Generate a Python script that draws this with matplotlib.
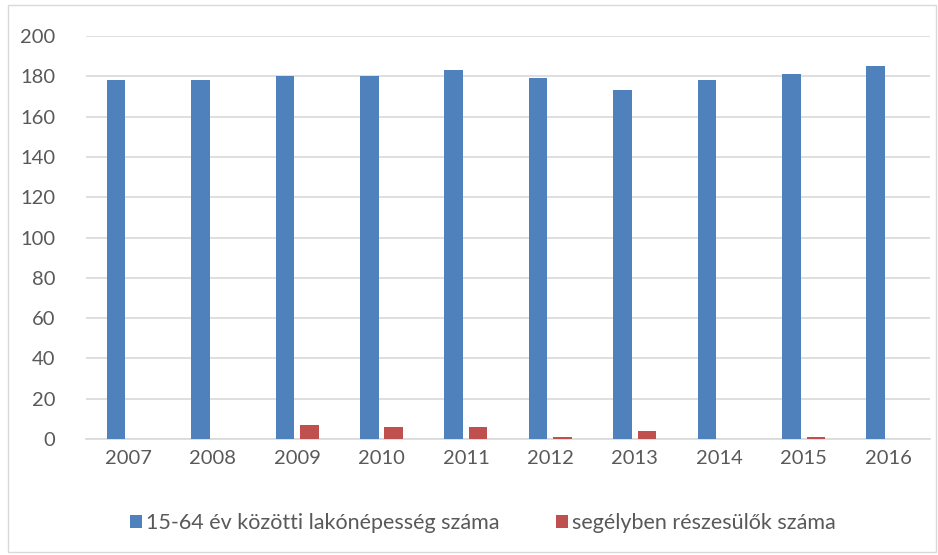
import numpy as np
import matplotlib.pyplot as plt
from matplotlib.patches import Rectangle

years = ['2007', '2008', '2009', '2010', '2011', '2012', '2013', '2014', '2015', '2016']
lakonepesseg = [178, 178, 180, 180, 183, 179, 173, 178, 181, 185]
segelyezettek = [0, 0, 7, 6, 6, 1, 4, 0, 1, 0]

blue = '#4f81bd'
red = '#c0504d'
grey_txt = '#595959'

plt.rcParams['font.family'] = ['Lato', 'DejaVu Sans']

fig = plt.figure(figsize=(9.38, 5.55), dpi=100)
ax = fig.add_axes([0.0917, 0.209, 0.9, 0.726])

x = np.arange(len(years))
w = 0.22
ax.bar(x - 0.145, lakonepesseg, w, color=blue, label='15-64 év közötti lakónépesség száma', zorder=3)
ax.bar(x + 0.145, segelyezettek, w, color=red, label='segélyben részesülők száma', zorder=3)

ax.set_xlim(-0.5, len(years) - 0.5)
ax.set_ylim(0, 200)
ax.set_yticks(range(0, 201, 20))
ax.set_xticks(x)
ax.set_xticklabels(years)
ax.grid(axis='y', color='#d9d9d9', linewidth=1.2, zorder=0)
for s in ['top', 'right', 'left']:
    ax.spines[s].set_visible(False)
ax.spines['bottom'].set_color('#d9d9d9')
ax.spines['bottom'].set_linewidth(1.2)
ax.tick_params(axis='both', length=0, labelsize=14.5, colors=grey_txt, pad=8)
ax.tick_params(axis='y', pad=22)

leg = fig.legend(loc='center', bbox_to_anchor=(0.515, 0.057), ncol=2, frameon=False,
                 fontsize=15.5, handlelength=0.55, handleheight=0.55, handletextpad=0.2,
                 columnspacing=2.6)
for t in leg.get_texts():
    t.set_color(grey_txt)

fig.patches.append(Rectangle((0.009, 0.006), 0.989, 0.985, transform=fig.transFigure,
                             fill=False, edgecolor='#d9d9d9', linewidth=1))

fig.savefig('out.png', dpi=100)
